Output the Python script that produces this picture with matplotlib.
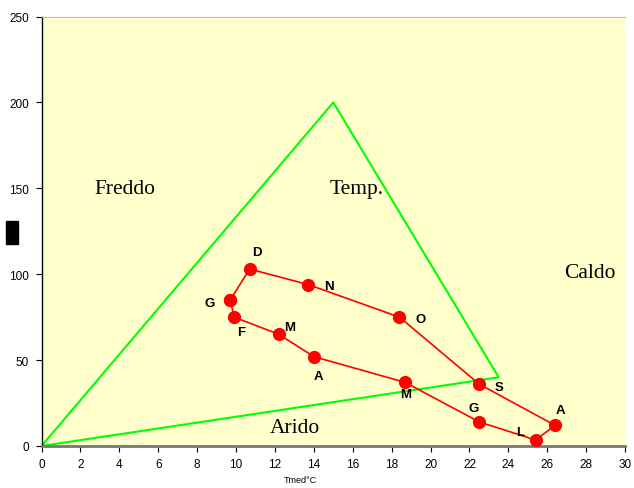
import matplotlib
matplotlib.use("Agg")
import matplotlib.pyplot as plt
from matplotlib.patches import Rectangle

# Monthly climate: mean temperature (°C) and precipitation (mm)
months = ["G", "F", "M", "A", "M", "G", "L", "A", "S", "O", "N", "D"]
temp = [9.7, 9.9, 12.2, 14.0, 18.7, 22.5, 25.4, 26.4, 22.5, 18.4, 13.7, 10.7]
prec = [85, 75, 65, 52, 37, 14, 3.5, 12, 36, 75, 94, 103]

# Label offsets (points) for each month
offsets = [(-15, -2), (5, -11), (8, 5), (3, -14), (0, -8), (-4, 10),
           (-11, 6), (4, 11), (14, -2), (15, -1), (15, -1), (5, 12)]

# Climate-zone triangle
tri_x = [0, 15, 23.5, 0]
tri_y = [0, 200, 40, 0]

zones = ["Freddo", "Temp.", "Caldo", "Arido"]
zone_x = [4.3, 16.2, 28.2, 13.05]
zone_y = [150, 150, 101, 11]

xticks = list(range(0, 31, 2))
yticks = list(range(0, 251, 50))

fig = plt.figure(figsize=(6.34, 4.89), dpi=100)
ax = fig.add_axes([0.0655, 0.0859, 0.9205, 0.8783])
ax.set_facecolor("#FFFFCC")

ax.plot(tri_x, tri_y, color="#00FF00", lw=1.5, zorder=2)
ax.plot(temp + temp[:1], prec + prec[:1], color="#FF0000", lw=1.2,
        marker="o", markersize=8.5, zorder=3)

for m, x, y, (dx, dy) in zip(months, temp, prec, offsets):
    ax.annotate(m, (x, y), xytext=(dx, dy), textcoords="offset points",
                ha="center", va="center", fontsize=9.5, fontweight="bold",
                family="Liberation Sans", zorder=4)

for z, x, y in zip(zones, zone_x, zone_y):
    ax.text(x, y, z, ha="center", va="center", fontsize=15.5,
            family="Liberation Serif")

ax.set_xlim(0, 30)
ax.set_ylim(0, 250)
ax.set_xticks(xticks)
ax.set_yticks(yticks)
ax.tick_params(labelsize=8.5, length=4, width=0.8, direction="out", pad=5)
for lab in ax.get_xticklabels() + ax.get_yticklabels():
    lab.set_family("Liberation Sans")

ax.spines["right"].set_visible(False)
ax.spines["top"].set_color("#BBBBBB")
ax.spines["bottom"].set_color("#777777")
ax.spines["bottom"].set_linewidth(2)
ax.spines["left"].set_color("black")
ax.spines["left"].set_linewidth(1)

fig.text(300 / 634, 4 / 489, "Tmed°C", fontsize=6.5,
         family="Liberation Sans", ha="center", va="bottom")

# Y-axis label block
fig.patches.append(Rectangle((6 / 634, 1 - 245 / 489), 12 / 634, 23 / 489,
                             transform=fig.transFigure, color="black"))

fig.savefig("out.png", dpi=100)
